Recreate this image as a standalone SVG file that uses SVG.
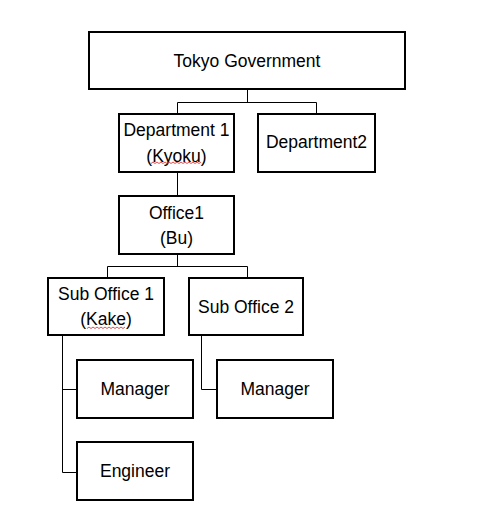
<svg xmlns="http://www.w3.org/2000/svg" width="494" height="528" viewBox="0 0 494 528">
<style>
.box{fill:#fff;stroke:#000;stroke-width:2}
.t{font-family:"Liberation Sans",Arial,sans-serif;font-size:17.5px;fill:#000;text-anchor:middle}
.c{fill:none;stroke:#000;stroke-width:1}
.sq{fill:none;stroke:#e02020;stroke-width:0.8}
</style>
<rect width="494" height="528" fill="#fff"/>
<g id="connectors">
<path class="c" d="M247.5,89V102.5M177.5,102.5H316.5M177.5,102.5V114M316.5,102.5V114"/>
<path class="c" d="M177.5,172V196"/>
<path class="c" d="M177.5,254V266.5M107.5,266.5H247.5M107.5,266.5V278M247.5,266.5V278"/>
<path class="c" d="M62.5,335V472.5H77M62.5,389.5H77"/>
<path class="c" d="M201.5,335V389.5H217"/>
</g>
<g id="tokyo">
<rect class="box" x="89" y="32" width="316" height="57"/>
<text class="t" x="247" y="67">Tokyo Government</text>
</g>
<g id="dept1">
<rect class="box" x="119" y="114" width="115" height="58"/>
<text class="t" x="176.5" y="136">Department 1</text>
<text class="t" x="176.5" y="162">(Kyoku)</text>
<path class="sq" d="M151,163.5l2,-1.5l2,1.5l2,-1.5l2,1.5l2,-1.5l2,1.5l2,-1.5l2,1.5l2,-1.5l2,1.5l2,-1.5l2,1.5l2,-1.5l2,1.5l2,-1.5l2,1.5l2,-1.5l2,1.5l2,-1.5l2,1.5l2,-1.5l2,1.5l2,-1.5l2,1.5l2,-1.5"/>
</g>
<g id="dept2">
<rect class="box" x="258" y="114" width="117" height="58"/>
<text class="t" x="316.5" y="148">Department2</text>
</g>
<g id="office1">
<rect class="box" x="119" y="196" width="115" height="58"/>
<text class="t" x="176.5" y="219">Office1</text>
<text class="t" x="176.5" y="244">(Bu)</text>
</g>
<g id="suboffice1">
<rect class="box" x="48" y="278" width="116" height="57"/>
<text class="t" x="106" y="300">Sub Office 1</text>
<text class="t" x="106" y="325">(Kake)</text>
<path class="sq" d="M87,328.5l2,-1.5l2,1.5l2,-1.5l2,1.5l2,-1.5l2,1.5l2,-1.5l2,1.5l2,-1.5l2,1.5l2,-1.5l2,1.5l2,-1.5l2,1.5l2,-1.5l2,1.5l2,-1.5l2,1.5l2,-1.5"/>
</g>
<g id="suboffice2">
<rect class="box" x="189" y="278" width="114" height="57"/>
<text class="t" x="246" y="313">Sub Office 2</text>
</g>
<g id="manager1">
<rect class="box" x="77" y="360" width="116" height="58"/>
<text class="t" x="135" y="395">Manager</text>
</g>
<g id="manager2">
<rect class="box" x="217" y="360" width="116" height="58"/>
<text class="t" x="275" y="395">Manager</text>
</g>
<g id="engineer">
<rect class="box" x="77" y="442" width="116" height="58"/>
<text class="t" x="135" y="477">Engineer</text>
</g>
</svg>
